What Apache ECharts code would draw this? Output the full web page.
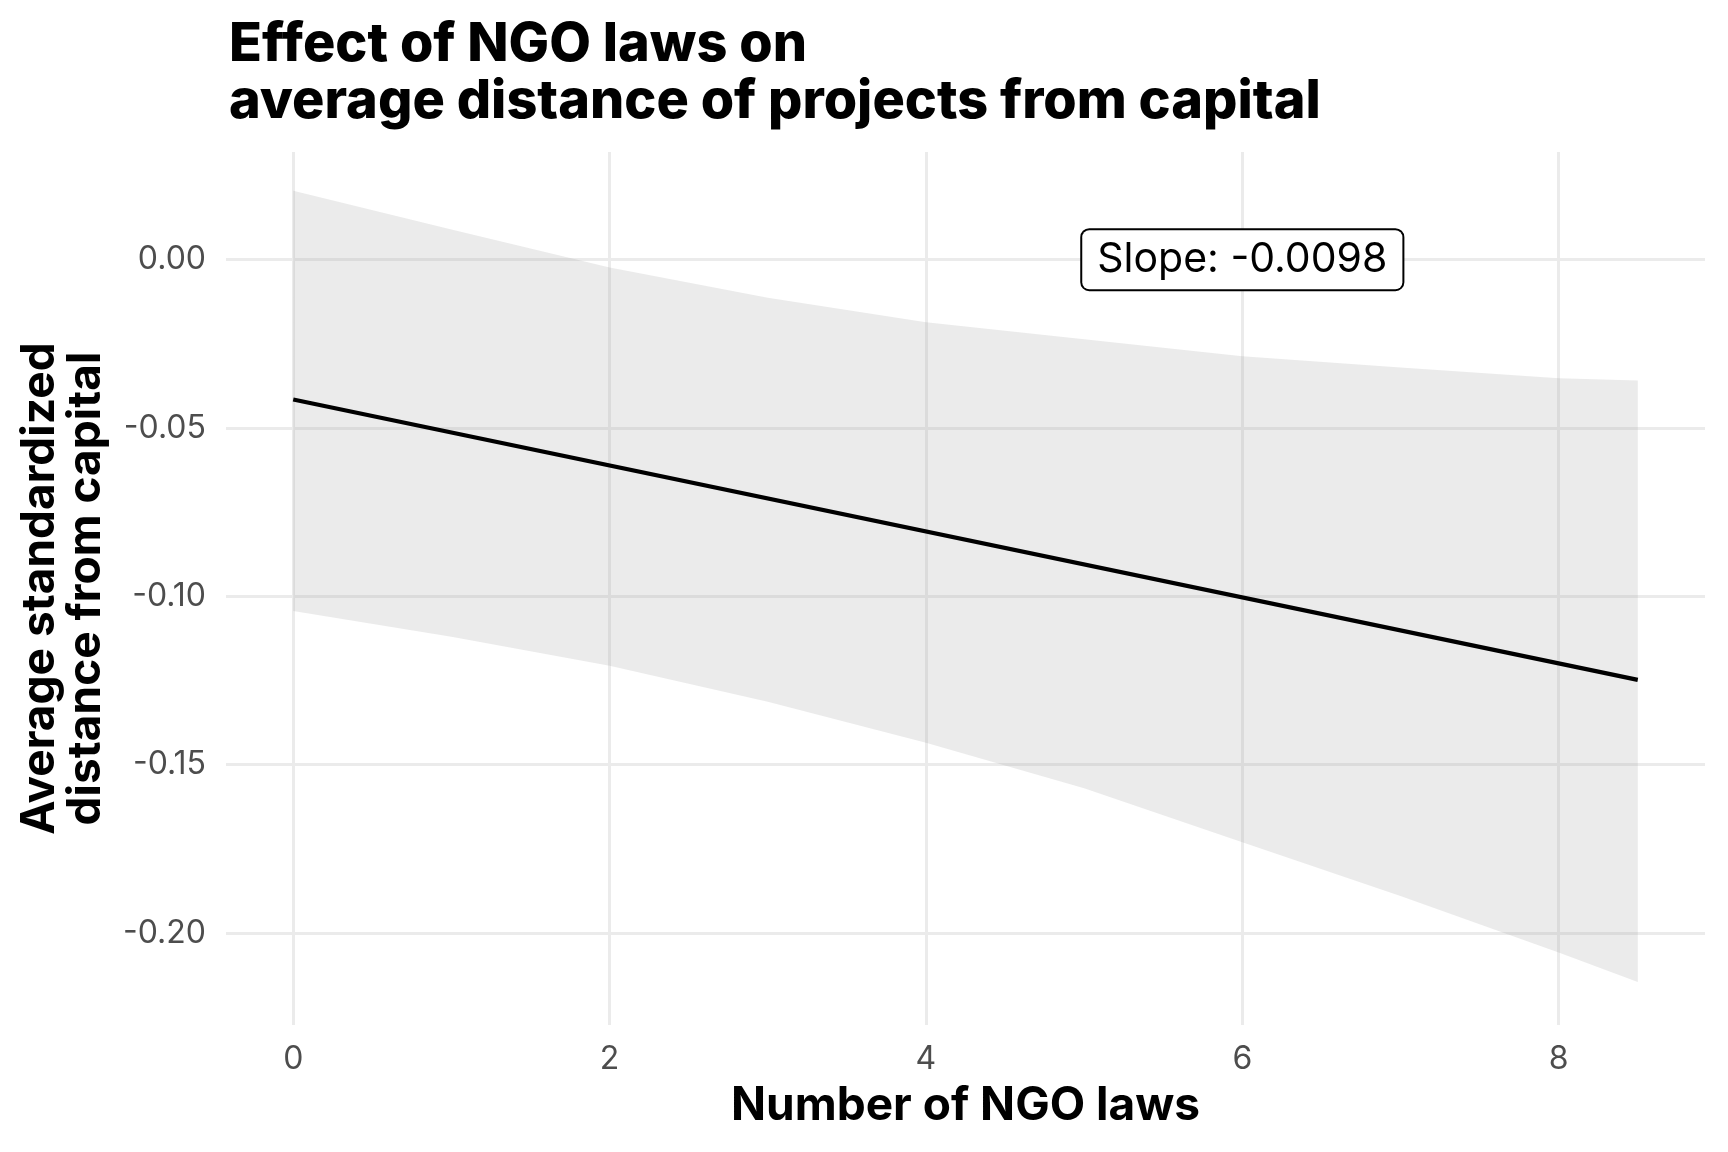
<!DOCTYPE html>
<html>
<head>
<meta charset="utf-8">
<script src="https://cdn.jsdelivr.net/npm/echarts@6/dist/echarts.min.js"></script>
<style>
  html, body { margin: 0; padding: 0; background: #ffffff; }
  #chart { width: 1728px; height: 1152px; }
</style>
</head>
<body>
<div id="chart"></div>
<script>
// ---- data ----
const titleText = 'Effect of NGO laws on\naverage distance of projects from capital';
const xTitle = 'Number of NGO laws';
const yTitle = 'Average standardized\ndistance from capital';
const xTicks = [0, 2, 4, 6, 8];
const yTicks = [-0.20, -0.15, -0.10, -0.05, 0.00];
const fitX = [0, 8.5];
const fitY = [-0.0415, -0.1248];
const bandX = [0, 1, 2, 3, 4, 5, 6, 7, 8, 8.5];
const bandUpper = [0.0205, 0.009, -0.0023, -0.0113, -0.0186, -0.0236, -0.0287, -0.032, -0.0352, -0.0359];
const bandLower = [-0.1043, -0.112, -0.1206, -0.1313, -0.1435, -0.157, -0.173, -0.189, -0.2058, -0.2145];
const slopeLabel = 'Slope: -0.0098';
const slopeLabelPos = [6, 0];

const FONT = 'Inter, Lato, "Noto Sans", sans-serif';
const chart = echarts.init(document.getElementById('chart'), null, { renderer: 'canvas' });

const bandData = bandX.map((x, i) => [x, bandUpper[i], bandLower[i]]);

const option = {
  backgroundColor: '#ffffff',
  animation: false,
  title: {
    text: titleText,
    left: 224,
    top: 11,
    textStyle: { fontFamily: FONT, fontSize: 54, fontWeight: 800, color: '#000000', lineHeight: 57 }
  },
  grid: { left: 226, right: 23, top: 152, bottom: 127, containLabel: false },
  xAxis: {
    type: 'value',
    min: -0.425,
    max: 8.925,
    name: xTitle,
    nameLocation: 'middle',
    nameGap: 58,
    nameTextStyle: { fontFamily: FONT, fontSize: 46, fontWeight: 'bold', color: '#000000' },
    axisLine: { show: false },
    axisTick: { show: false, customValues: xTicks },
    axisLabel: {
      customValues: xTicks,
      margin: 18,
      fontFamily: FONT, fontSize: 32, color: '#4D4D4D',
      formatter: v => String(v)
    },
    splitLine: { show: true, lineStyle: { color: '#EBEBEB', width: 3 } }
  },
  yAxis: {
    type: 'value',
    min: -0.2273,
    max: 0.032,
    name: yTitle,
    nameLocation: 'middle',
    nameRotate: 90,
    nameGap: 117,
    nameTextStyle: { fontFamily: FONT, fontSize: 46, fontWeight: 'bold', color: '#000000', lineHeight: 46 },
    axisLine: { show: false },
    axisTick: { show: false, customValues: yTicks },
    axisLabel: {
      customValues: yTicks,
      margin: 20,
      fontFamily: FONT, fontSize: 32, color: '#4D4D4D',
      formatter: v => (Math.abs(v) < 1e-9 ? 0 : v).toFixed(2)
    },
    splitLine: { show: true, lineStyle: { color: '#EBEBEB', width: 3 } }
  },
  series: [
    {
      type: 'custom',
      name: 'band',
      data: bandData,
      encode: { x: 0, y: [1, 2] },
      clip: true,
      silent: true,
      z: 2,
      renderItem: function (params, api) {
        if (params.dataIndex !== 0) return null;
        const pts = [];
        for (let i = 0; i < bandX.length; i++) pts.push(api.coord([bandX[i], bandUpper[i]]));
        for (let i = bandX.length - 1; i >= 0; i--) pts.push(api.coord([bandX[i], bandLower[i]]));
        return {
          type: 'polygon',
          shape: { points: pts },
          style: { fill: 'rgba(153,153,153,0.2)', stroke: null }
        };
      }
    },
    {
      type: 'line',
      name: 'fit',
      data: fitX.map((x, i) => [x, fitY[i]]),
      showSymbol: false,
      symbol: 'none',
      z: 3,
      lineStyle: { color: '#000000', width: 4.2 }
    },
    {
      type: 'scatter',
      name: 'label',
      data: [slopeLabelPos],
      symbolSize: 1,
      z: 4,
      itemStyle: { color: 'rgba(0,0,0,0)' },
      label: {
        show: true,
        position: 'inside',
        formatter: slopeLabel,
        fontFamily: FONT,
        fontSize: 41,
        color: '#000000',
        opacity: 1,
        backgroundColor: '#ffffff',
        borderColor: '#000000',
        borderWidth: 2,
        borderRadius: 7,
        padding: [9, 15, 9, 15]
      }
    }
  ]
};
chart.setOption(option);
</script>
</body>
</html>
